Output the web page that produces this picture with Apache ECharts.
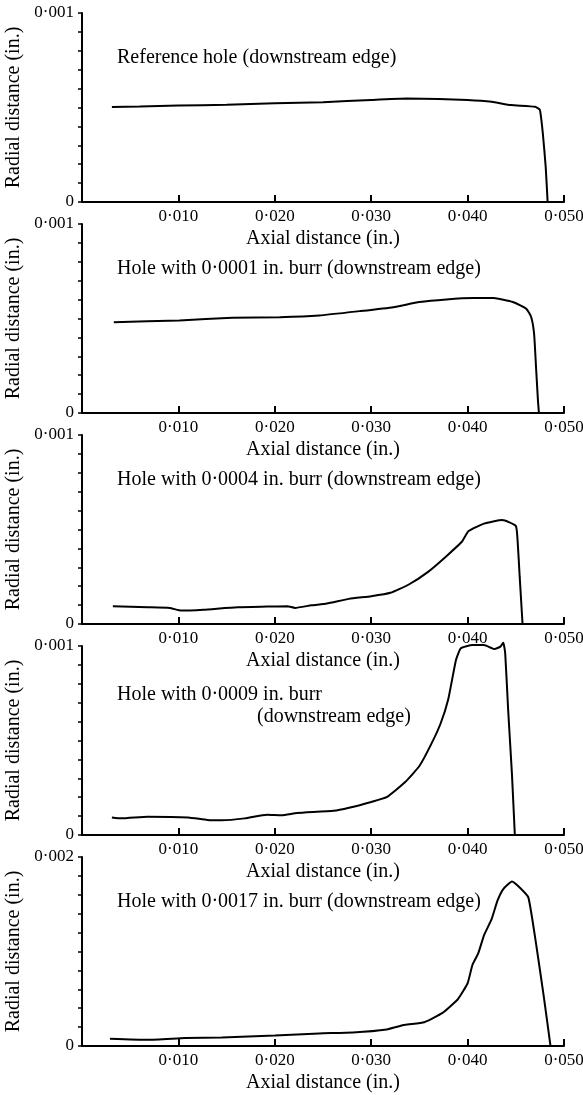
<!DOCTYPE html>
<html>
<head>
<meta charset="utf-8">
<script src="https://cdn.jsdelivr.net/npm/echarts@6/dist/echarts.min.js"></script>
<style>
  html, body { margin: 0; padding: 0; background: #fff; }
  #chart { width: 583px; height: 1095px; }
</style>
</head>
<body>
<div id="chart"></div>
<script>
// axial distance (in.) / radial distance (in.)
const refX = [0.0031, 0.006, 0.010, 0.015, 0.020, 0.025, 0.030, 0.0337, 0.037, 0.040, 0.0425, 0.0445, 0.047, 0.0475, 0.0478, 0.0481, 0.0483]
const refY = [0.000503, 0.000505, 0.00051, 0.000515, 0.000522, 0.000528, 0.00054, 0.000547, 0.000545, 0.00054, 0.00053, 0.000513, 0.000504, 0.000487, 0.000365, 0.000187, 0]

const burr1X = [0.0033, 0.0101, 0.0156, 0.0205, 0.0246, 0.0288, 0.0323, 0.035, 0.0378, 0.0406, 0.0427, 0.0447, 0.0461, 0.0466, 0.0469, 0.0471, 0.0473, 0.0474]
const burr1Y = [0.00048, 0.00049, 0.000504, 0.000507, 0.000516, 0.000539, 0.00056, 0.000587, 0.000601, 0.000608, 0.000608, 0.000587, 0.000551, 0.000507, 0.000418, 0.000241, 0.000064, 0]

const burr4X = [0.0032, 0.0068, 0.0091, 0.0103, 0.0126, 0.0161, 0.0192, 0.0213, 0.0221, 0.0238, 0.0254, 0.0277, 0.030, 0.032, 0.0339, 0.0359, 0.0378, 0.0394, 0.0401, 0.0417, 0.0436, 0.045, 0.0452, 0.0454, 0.0457]
const burr4Y = [0.000094, 0.000089, 0.000085, 0.000071, 0.000076, 0.000089, 0.000092, 0.000094, 0.000085, 0.000099, 0.000108, 0.000133, 0.000147, 0.000165, 0.000209, 0.000276, 0.000359, 0.000435, 0.000492, 0.000531, 0.00055, 0.000519, 0.00043, 0.000253, 0]

const burr9X = [0.0031, 0.0041, 0.0068, 0.011, 0.013, 0.0145, 0.0169, 0.0192, 0.0207, 0.0223, 0.0261, 0.0277, 0.030, 0.0316, 0.0335, 0.035, 0.0362, 0.0372, 0.038, 0.0388, 0.0393, 0.0405, 0.0417, 0.0428, 0.0434, 0.0437, 0.0439, 0.0442, 0.0446, 0.0449]
const burr9Y = [0.000093, 0.000088, 0.000097, 0.000093, 0.00008, 0.000078, 0.000088, 0.000107, 0.000104, 0.000116, 0.000128, 0.000144, 0.000175, 0.0002, 0.000279, 0.000365, 0.000478, 0.00059, 0.00072, 0.000927, 0.000988, 0.001005, 0.001005, 0.000984, 0.000997, 0.001017, 0.000962, 0.000668, 0.000322, 0]

const burr17X = [0.0029, 0.0068, 0.0107, 0.0145, 0.020, 0.0246, 0.0281, 0.0316, 0.0335, 0.0355, 0.0374, 0.039, 0.040, 0.0405, 0.0411, 0.0417, 0.0425, 0.0431, 0.0437, 0.0446, 0.0454, 0.0463, 0.0471, 0.0479, 0.0486]
const burr17Y = [0.000077, 0.000066, 0.000084, 0.000091, 0.000112, 0.000133, 0.000143, 0.000175, 0.000224, 0.000252, 0.00035, 0.000497, 0.000664, 0.000857, 0.000979, 0.001171, 0.001346, 0.001538, 0.001661, 0.001741, 0.001678, 0.001573, 0.001084, 0.000524, 0]

const xTicks = [0.010, 0.020, 0.030, 0.040, 0.050]
const yMax = [0.001, 0.001, 0.001, 0.001, 0.002]
const yMaxLabels = ['0·001', '0·001', '0·001', '0·001', '0·002']
const captions = [
    ['Reference hole (downstream edge)'],
    ['Hole with 0·0001 in. burr (downstream edge)'],
    ['Hole with 0·0004 in. burr (downstream edge)'],
    ['Hole with 0·0009 in. burr', '(downstream edge)'],
    ['Hole with 0·0017 in. burr (downstream edge)']
]

const panels = [[refX, refY], [burr1X, burr1Y], [burr4X, burr4Y], [burr9X, burr9Y], [burr17X, burr17Y]]

const FONT = '"Liberation Serif", "DejaVu Serif", serif'
const tops = [13, 224, 435, 646, 857]
const H = 189

const chart = echarts.init(document.getElementById('chart'))

const fmtX = v => {
    const hit = xTicks.find(t => Math.abs(t - v) < 1e-9)
    return hit ? hit.toFixed(3).replace('.', '·') : ''
}

const option = {
    backgroundColor: '#fff',
    animation: false,
    grid: tops.map(t => ({ left: 82, width: 482, top: t, height: H, containLabel: false, outerBoundsMode: 'none' })),
    xAxis: tops.map((t, i) => ({
        type: 'value',
        gridIndex: i,
        min: 0,
        max: 0.05,
        interval: 0.01,
        name: 'Axial distance (in.)',
        nameLocation: 'middle',
        nameGap: 27,
        nameTextStyle: { fontFamily: FONT, fontSize: 20, color: '#000' },
        axisLine: { onZero: false, lineStyle: { color: '#000', width: 2 } },
        axisTick: { inside: true, length: 7, lineStyle: { color: '#000', width: 2 } },
        axisLabel: { formatter: fmtX, fontFamily: FONT, fontSize: 17, color: '#000', margin: 6 },
        splitLine: { show: false }
    })),
    yAxis: tops.map((t, i) => ({
        type: 'value',
        gridIndex: i,
        min: 0,
        max: yMax[i],
        interval: yMax[i] / 10,
        name: 'Radial distance (in.)',
        nameLocation: 'middle',
        nameGap: 53,
        nameTextStyle: { fontFamily: FONT, fontSize: 20, color: '#000' },
        axisLine: { show: true, lineStyle: { color: '#000', width: 2 } },
        axisTick: { show: true, inside: false, length: 4, lineStyle: { color: '#000', width: 1.5 } },
        axisLabel: {
            fontFamily: FONT, fontSize: 17, color: '#000', margin: 8,
            formatter: v => v === 0 ? '0' : (Math.abs(v - yMax[i]) < 1e-9 ? yMaxLabels[i] : '')
        },
        splitLine: { show: false }
    })),
    series: panels.map(([xs, ys], i) => ({
        type: 'line',
        xAxisIndex: i,
        yAxisIndex: i,
        data: xs.map((x, k) => [x, ys[k]]),
        showSymbol: false,
        smooth: 0.15,
        clip: false,
        lineStyle: { color: '#000', width: 2 }
    })),
    graphic: captions.flatMap((lines, i) => lines.map((txt, k) => ({
        type: 'text',
        x: k === 0 ? 117 : 257,
        y: tops[i] + (i === 3 ? 49 : 45) + k * 22,
        style: { text: txt, fill: '#000', font: '20px ' + FONT, verticalAlign: 'middle' }
    })))
}

chart.setOption(option)
</script>
</body>
</html>
